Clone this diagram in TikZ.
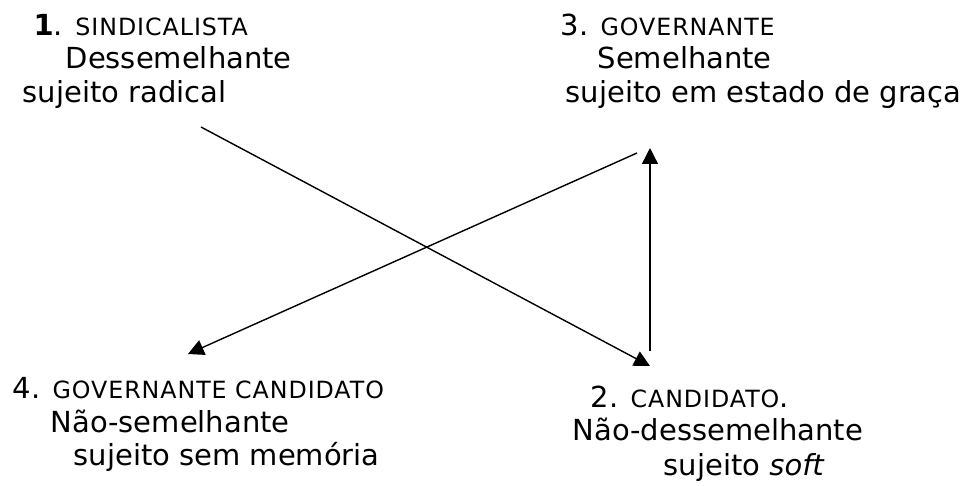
\documentclass[tikz,border=0pt]{standalone}
\usepackage{fontspec}
\setmainfont{DejaVu Sans}
\usetikzlibrary{arrows.meta, positioning}
\tikzset{>={Triangle[length=9pt,width=9pt]}}
\tikzset{txt/.style={anchor=base west, inner sep=0pt, font=\fontsize{16.5}{19}\selectfont}}
\newcommand{\smcap}[1]{{\fontsize{13.5}{15}\selectfont\addfontfeatures{LetterSpace=4}#1}}

\begin{document}
\begin{tikzpicture}[x=0.02cm, y=-0.02cm, thick]
    \useasboundingbox (0,0) rectangle (965,485);
    % 1. sindicalista
    \node[txt] (s1) at (33,35) {\textbf{1}. \smcap{SINDICALISTA}};
    \node[txt] (s2) at (65,68) {Dessemelhante};
    \node[txt] (s3) at (22,102) {sujeito radical};
    % 3. governante
    \node[txt] (g1) at (560,35) {3. \smcap{GOVERNANTE}};
    \node[txt] (g2) at (597,68) {Semelhante};
    \node[txt] (g3) at (565,102) {sujeito em estado de graça};
    % 4. governante candidato
    \node[txt] (gc1) at (12,398) {4. \smcap{GOVERNANTE CANDIDATO}};
    \node[txt] (gc2) at (50,432) {Não-semelhante};
    \node[txt] (gc3) at (73,465) {sujeito sem memória};
    % 2. candidato
    \node[txt] (c1) at (590,407) {2. \smcap{CANDIDATO}.};
    \node[txt] (c2) at (572,440) {Não-dessemelhante};
    \node[txt] (c3) at (663,475) {sujeito \textit{soft}};
    % arrows
    \coordinate (from1) at (201,127);
    \coordinate (to2) at (650,366);
    \coordinate (from3) at (637,153);
    \coordinate (to4) at (188,354);
    \coordinate (from2) at (650,351);
    \coordinate (to3) at (650,148);
    \draw[->] (from1)--(to2);
    \draw[->] (from3)--(to4);
    \draw[->] (from2)--(to3);
\end{tikzpicture}
\end{document}
